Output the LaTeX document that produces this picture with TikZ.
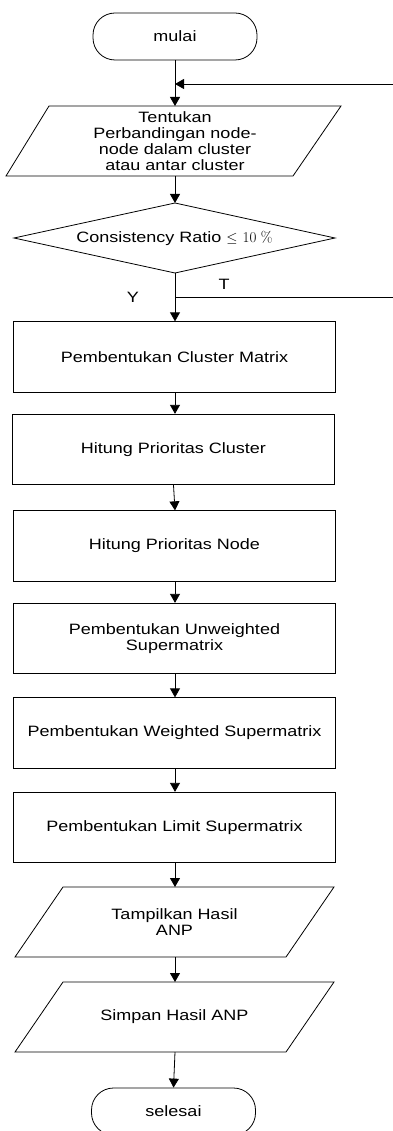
\documentclass[tikz,border=0pt]{standalone}
\usepackage{fontspec}
\setmainfont{Liberation Sans}[FakeStretch=1.2]
\newfontfamily\lmrfont{Latin Modern Roman}
\usetikzlibrary{arrows.meta,calc}
\begin{document}
\begin{tikzpicture}[x=1pt,y=-1pt,
  every node/.style={font=\fontsize{15}{16}\selectfont, inner sep=0pt},
  line/.style={draw=black, line width=0.8pt},
  arr/.style={line, -{Triangle[length=9pt,width=10pt]}},
  term/.style={draw, line width=0.8pt, rounded corners=22pt, minimum width=164pt, minimum height=47pt},
  proc/.style={draw, line width=0.8pt, minimum width=322pt, minimum height=70.5pt, align=center},
  lbl/.style={align=center}
]
\useasboundingbox (0,0) rectangle (393,1131);

% start
\node[term] (mulai) at (175,36.5) {mulai};

% input parallelogram 1
\coordinate (p1top) at (175,106);
\coordinate (p1bot) at (175,176);
\draw[line] (49,106) -- (341,106) -- (293,176) -- (6,176) -- cycle;
\node[lbl] (p1) at (175,141.5) {Tentukan\\Perbandingan node-\\node dalam cluster\\atau antar cluster};

% decision
\coordinate (dtop) at (175,203);
\coordinate (dbot) at (175,273);
\draw[line] (14,238) -- (175,203) -- (335,238) -- (175,273) -- cycle;
\node (dec) at (174.5,238) {Consistency Ratio $\leq$ {\lmrfont 10 \%}};

% feedback loop
\coordinate (fbR) at (393,84);
\coordinate (fbJ) at (175,84);
\coordinate (tJ) at (175,297);
\coordinate (tR) at (393,297);

% process boxes
\node[proc] (b1) at (174.5,357) {Pembentukan Cluster Matrix};
\node[proc] (b2) at (173.5,449.5) {Hitung Prioritas Cluster};
\node[proc] (b3) at (174.5,546) {Hitung Prioritas Node};
\node[proc] (b4) at (174.5,638.5) {Pembentukan Unweighted\\Supermatrix};
\node[proc] (b5) at (174.5,733) {Pembentukan Weighted Supermatrix};
\node[proc] (b6) at (174.5,827.5) {Pembentukan Limit Supermatrix};

% output parallelograms
\coordinate (p2top) at (175,887);
\coordinate (p2bot) at (175,957);
\draw[line] (63,887) -- (334,887) -- (286,957) -- (15,957) -- cycle;
\node[lbl] (p2) at (174.5,922.5) {Tampilkan Hasil\\ANP};

\coordinate (p3top) at (175,982);
\coordinate (p3bot) at (175,1052);
\draw[line] (63,982) -- (334,982) -- (286,1052) -- (15,1052) -- cycle;
\node[lbl] (p3) at (174.5,1017) {Simpan Hasil ANP};

% end
\node[term] (selesai) at (173.5,1111.5) {selesai};

% labels
\node (Y) at (133,297) {Y};
\node (T) at (224,284) {T};

% connectors
\draw[arr] (mulai.south -| p1top) -- (p1top);
\draw[arr] (fbR) -- (fbJ);
\draw[arr] (p1bot) -- (dtop);
\draw[arr] (dbot) -- (dbot |- b1.north);
\draw[line] (tJ) -- (tR);
\draw[arr] (b1.south -| dbot) -- (b2.north -| dbot);
\draw[arr] (b2.south) -- (b3.north -| dbot);
\draw[arr] (b3.south -| dbot) -- (b4.north -| dbot);
\draw[arr] (b4.south -| dbot) -- (b5.north -| dbot);
\draw[arr] (b5.south -| dbot) -- (b6.north -| dbot);
\draw[arr] (b6.south -| dbot) -- (p2top);
\draw[arr] (p2bot) -- (p3top);
\draw[arr] (p3bot) -- (selesai.north);
\end{tikzpicture}
\end{document}
